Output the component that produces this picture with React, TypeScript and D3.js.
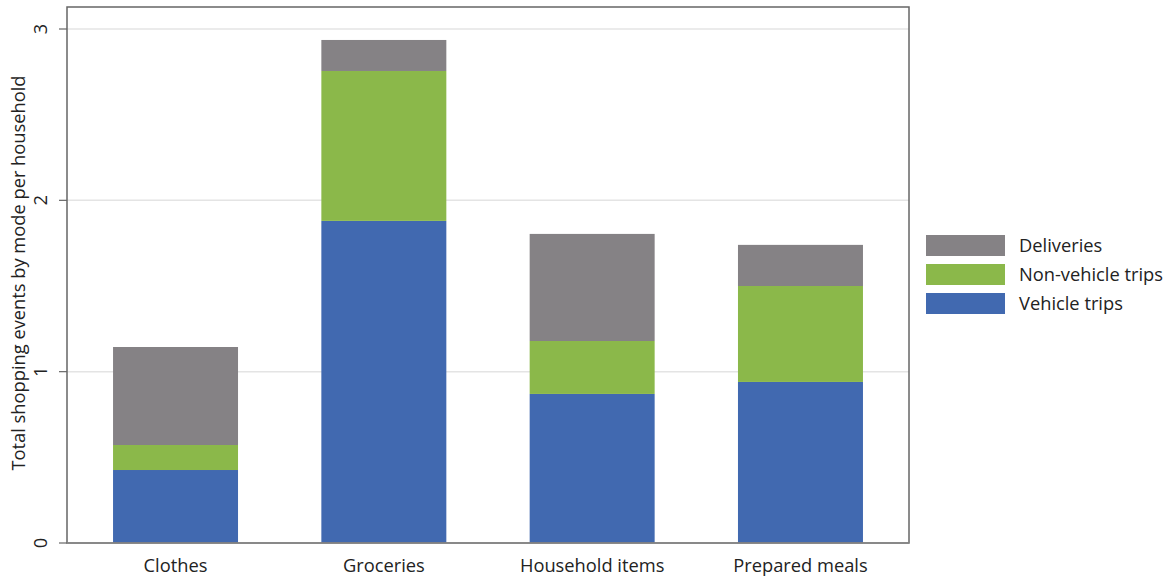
import React from "react";
import * as d3 from "d3";

const categories = ["Clothes", "Groceries", "Household items", "Prepared meals"];
const vehicleTrips = [0.426, 1.88, 0.87, 0.94];
const nonVehicleTrips = [0.146, 0.875, 0.309, 0.56];
const deliveries = [0.572, 0.181, 0.625, 0.24];
const yTicks = [0, 1, 2, 3];
const seriesNames = ["Vehicle trips", "Non-vehicle trips", "Deliveries"];
const seriesColors = ["#4169B0", "#8BB84A", "#858285"];

const W = 1174, H = 578;
const L = 67, R = 909, T = 7, B = 543;
const FONT = "'Open Sans', sans-serif";
const FS = 18.3;

export default function App() {
  const x = d3.scaleBand<string>().domain(categories).range([L, R]).paddingInner(0.4).paddingOuter(0.221);
  const y = d3.scaleLinear().domain([0, 3]).range([B, 29]);
  const rows = categories.map((c, i) => ({ cat: c, v: vehicleTrips[i], n: nonVehicleTrips[i], d: deliveries[i] }));
  const stack = d3.stack<any>().keys(["v", "n", "d"])(rows);
  const legendOrder = [2, 1, 0];
  return (
    <svg width={W} height={H} style={{ position: "absolute", left: 0, top: 0, background: "#fff" }} fontFamily={FONT}>
      {yTicks.filter(t => t > 0).map(t => (
        <line key={t} x1={L} x2={R} y1={y(t)} y2={y(t)} stroke="#e4e4e4" strokeWidth={1.5} />
      ))}
      {stack.map((s, si) => (
        <g key={si} fill={seriesColors[si]}>
          {s.map((p, i) => (
            <rect key={i} x={x(categories[i])} width={x.bandwidth()} y={y(p[1])} height={y(p[0]) - y(p[1])} />
          ))}
        </g>
      ))}
      <rect x={L} y={T} width={R - L} height={B - T} fill="none" stroke="#666" strokeWidth={1.5} />
      <line x1={L} x2={R} y1={B} y2={B} stroke="#888" strokeWidth={1.5} />
      {yTicks.map(t => (
        <g key={t}>
          <line x1={L - 8} x2={L} y1={y(t)} y2={y(t)} stroke="#666" strokeWidth={1.2} />
          <text transform={`translate(47,${y(t)}) rotate(-90)`} textAnchor="middle" fontSize={FS} fill="#222">{t}</text>
        </g>
      ))}
      {categories.map(c => (
        <text key={c} x={(x(c) as number) + x.bandwidth() / 2} y={572} textAnchor="middle" fontSize={FS} fill="#222">{c}</text>
      ))}
      <text transform={`translate(25,273) rotate(-90)`} textAnchor="middle" fontSize={FS} fill="#222">
        Total shopping events by mode per household
      </text>
      {legendOrder.map((si, k) => (
        <g key={si} transform={`translate(926,${235 + k * 29})`}>
          <rect width={79} height={21} fill={seriesColors[si]} />
          <text x={93} y={17} fontSize={FS} fill="#222">{seriesNames[si]}</text>
        </g>
      ))}
    </svg>
  );
}
